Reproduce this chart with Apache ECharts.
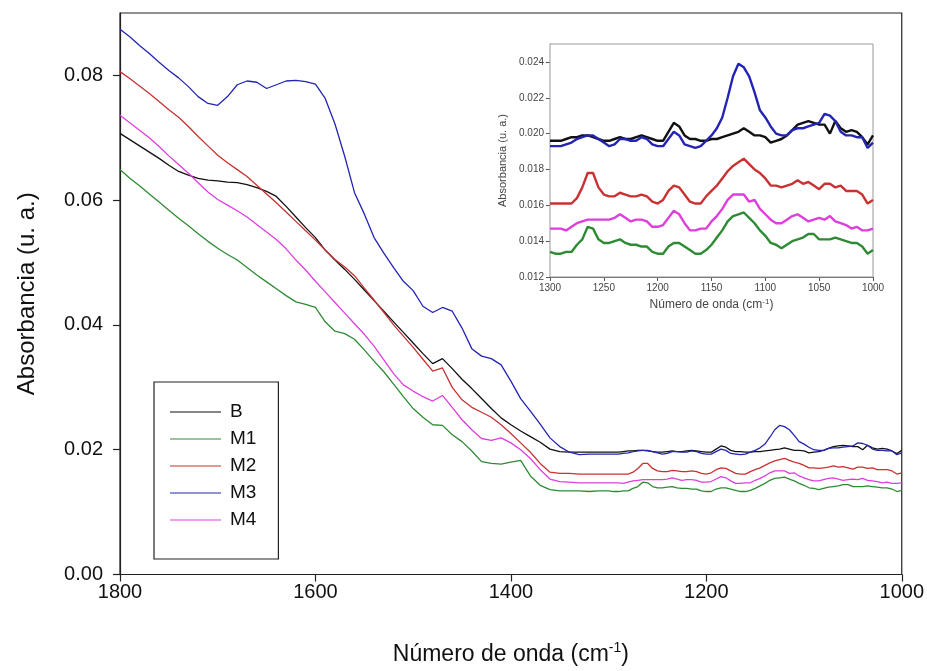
<!DOCTYPE html>
<html>
<head>
<meta charset="utf-8">
<script src="https://cdn.jsdelivr.net/npm/echarts@6/dist/echarts.min.js"></script>
<style>
html,body{margin:0;padding:0;background:#fff;}
#chart{width:927px;height:671px;}
</style>
</head>
<body>
<div id="chart"></div>
<script>
// ---- Data: main chart high-wavenumber region (1800 -> 1310, step 10) ----
const wnHi = [1800,1790,1780,1770,1760,1750,1740,1730,1720,1710,1700,1690,1680,1670,1660,1650,1640,1630,1620,1610,1600,1590,1580,1570,1560,1550,1540,1530,1520,1510,1500,1490,1480,1470,1460,1450,1440,1430,1420,1410,1400,1390,1380,1370,1360,1350,1340,1330,1320,1310];
const B_hi  = [0.0707,0.0697,0.0687,0.0677,0.0667,0.0656,0.0646,0.0640,0.0635,0.0632,0.0631,0.0629,0.0628,0.0625,0.0620,0.0614,0.0606,0.0590,0.0573,0.0556,0.0540,0.0520,0.0504,0.0489,0.0473,0.0456,0.0439,0.0422,0.0405,0.0388,0.0371,0.0354,0.0338,0.0346,0.0330,0.0313,0.0298,0.0282,0.0266,0.0251,0.0240,0.0230,0.0221,0.0212,0.0201,0.0197,0.0196,0.0196,0.0196,0.0196];
const M1_hi = [0.0649,0.0635,0.0623,0.0610,0.0597,0.0584,0.0571,0.0559,0.0546,0.0534,0.0523,0.0513,0.0504,0.0492,0.0480,0.0469,0.0458,0.0447,0.0437,0.0433,0.0428,0.0405,0.0390,0.0386,0.0377,0.0360,0.0342,0.0325,0.0305,0.0285,0.0266,0.0252,0.0240,0.0239,0.0224,0.0213,0.0198,0.0181,0.0178,0.0177,0.0180,0.0183,0.0158,0.0143,0.0136,0.0134,0.0134,0.0134,0.0133,0.0134];
const M2_hi = [0.0806,0.0795,0.0783,0.0771,0.0758,0.0745,0.0733,0.0718,0.0702,0.0687,0.0672,0.0660,0.0649,0.0638,0.0624,0.0610,0.0596,0.0581,0.0566,0.0551,0.0536,0.0520,0.0505,0.0493,0.0479,0.0459,0.0440,0.0420,0.0400,0.0382,0.0364,0.0345,0.0326,0.0331,0.0300,0.0280,0.0268,0.0260,0.0252,0.0240,0.0226,0.0211,0.0196,0.0178,0.0164,0.0162,0.0162,0.0161,0.0161,0.0161];
const M3_hi = [0.0874,0.0862,0.0848,0.0835,0.0821,0.0808,0.0796,0.0782,0.0766,0.0755,0.0752,0.0766,0.0785,0.0791,0.0789,0.0779,0.0785,0.0791,0.0792,0.0790,0.0786,0.0763,0.0722,0.0670,0.0612,0.0578,0.0540,0.0515,0.0492,0.0470,0.0455,0.0430,0.0420,0.0428,0.0422,0.0395,0.0362,0.0350,0.0346,0.0336,0.0310,0.0282,0.0262,0.0241,0.0219,0.0205,0.0196,0.0192,0.0193,0.0193];
const M4_hi = [0.0736,0.0724,0.0712,0.0700,0.0686,0.0671,0.0657,0.0643,0.0628,0.0613,0.0601,0.0592,0.0583,0.0573,0.0561,0.0549,0.0537,0.0522,0.0504,0.0488,0.0470,0.0453,0.0436,0.0419,0.0402,0.0385,0.0366,0.0344,0.0322,0.0304,0.0294,0.0285,0.0278,0.0287,0.0268,0.0248,0.0232,0.0218,0.0215,0.0219,0.0211,0.0200,0.0186,0.0168,0.0153,0.0149,0.0148,0.0147,0.0147,0.0147];

// ---- Data: fingerprint region (1300 -> 1000, step 5), used by inset and main ----
const wnLo = [1300,1295,1290,1285,1280,1275,1270,1265,1260,1255,1250,1245,1240,1235,1230,1225,1220,1215,1210,1205,1200,1195,1190,1185,1180,1175,1170,1165,1160,1155,1150,1145,1140,1135,1130,1125,1120,1115,1110,1105,1100,1095,1090,1085,1080,1075,1070,1065,1060,1055,1050,1045,1040,1035,1030,1025,1020,1015,1010,1005,1000];
const B_lo  = [0.0196,0.0196,0.0196,0.0197,0.0198,0.0198,0.0199,0.0199,0.0198,0.0197,0.0196,0.0196,0.0197,0.0198,0.0197,0.0197,0.0198,0.0199,0.0198,0.0197,0.0196,0.0196,0.0201,0.0206,0.0204,0.0199,0.0197,0.0197,0.0196,0.0196,0.0197,0.0197,0.0198,0.0199,0.0200,0.0201,0.0203,0.0201,0.0199,0.0199,0.0198,0.0195,0.0196,0.0197,0.0199,0.0202,0.0205,0.0206,0.0207,0.0206,0.0205,0.0205,0.0200,0.0207,0.0203,0.0201,0.0202,0.0201,0.0198,0.0194,0.0199];
const M1_lo = [0.0134,0.0133,0.0133,0.0134,0.0134,0.0138,0.0141,0.0148,0.0147,0.0141,0.0139,0.0139,0.0140,0.0141,0.0139,0.0138,0.0138,0.0137,0.0137,0.0134,0.0133,0.0133,0.0137,0.0139,0.0139,0.0137,0.0135,0.0133,0.0133,0.0135,0.0138,0.0142,0.0146,0.0151,0.0154,0.0155,0.0156,0.0153,0.0150,0.0146,0.0143,0.0139,0.0138,0.0136,0.0138,0.0140,0.0141,0.0142,0.0144,0.0144,0.0141,0.0141,0.0141,0.0142,0.0141,0.0140,0.0139,0.0139,0.0137,0.0133,0.0135];
const M2_lo = [0.0161,0.0161,0.0161,0.0161,0.0161,0.0164,0.0170,0.0178,0.0178,0.0170,0.0166,0.0165,0.0165,0.0167,0.0166,0.0165,0.0165,0.0166,0.0165,0.0162,0.0161,0.0163,0.0168,0.0171,0.0170,0.0166,0.0162,0.0161,0.0161,0.0165,0.0168,0.0171,0.0175,0.0179,0.0182,0.0184,0.0186,0.0183,0.0180,0.0178,0.0175,0.0171,0.0171,0.0170,0.0171,0.0172,0.0174,0.0172,0.0173,0.0171,0.0169,0.0172,0.0172,0.0170,0.0171,0.0168,0.0168,0.0168,0.0166,0.0161,0.0163];
const M3_lo = [0.0193,0.0193,0.0193,0.0194,0.0195,0.0197,0.0198,0.0199,0.0199,0.0197,0.0195,0.0193,0.0194,0.0197,0.0197,0.0196,0.0196,0.0198,0.0197,0.0194,0.0193,0.0193,0.0197,0.0201,0.0199,0.0194,0.0193,0.0192,0.0193,0.0196,0.0199,0.0203,0.0209,0.0220,0.0232,0.0239,0.0237,0.0232,0.0223,0.0213,0.0209,0.0204,0.0200,0.0199,0.0199,0.0202,0.0203,0.0203,0.0204,0.0205,0.0206,0.0211,0.0210,0.0207,0.0201,0.0199,0.0199,0.0198,0.0198,0.0192,0.0195];
const M4_lo = [0.0147,0.0147,0.0147,0.0146,0.0148,0.0150,0.0151,0.0152,0.0152,0.0152,0.0152,0.0152,0.0153,0.0155,0.0153,0.0151,0.0152,0.0152,0.0151,0.0148,0.0148,0.0149,0.0153,0.0157,0.0155,0.0150,0.0146,0.0146,0.0147,0.0147,0.0151,0.0154,0.0158,0.0163,0.0166,0.0166,0.0166,0.0162,0.0163,0.0158,0.0155,0.0152,0.0150,0.0150,0.0152,0.0154,0.0155,0.0153,0.0151,0.0152,0.0153,0.0152,0.0154,0.0151,0.0150,0.0149,0.0147,0.0148,0.0146,0.0146,0.0147];

const names  = ['B','M1','M2','M3','M4'];
const colors = ['#111111','#2e8b34','#c83232','#2424b4','#dd3fdd'];
const hiSets = [B_hi, M1_hi, M2_hi, M3_hi, M4_hi];
const loSets = [B_lo, M1_lo, M2_lo, M3_lo, M4_lo];

const mainTicksX = {min:1000, max:1800, interval:200};
const mainTicksY = {min:0, max:0.09, interval:0.02};
const insetTicksX = {min:1000, max:1300, interval:50};
const insetTicksY = {min:0.012, max:0.025, interval:0.002};

const FONT = "'Liberation Sans',Arial,sans-serif";

const series = [];
names.forEach((n, k) => {
  const data = wnHi.map((w,i)=>[w, hiSets[k][i]]).concat(wnLo.map((w,i)=>[w, loSets[k][i]]));
  series.push({name:n, type:'line', xAxisIndex:0, yAxisIndex:0, data, symbol:'none',
    lineStyle:{color:colors[k], width:1.3}, itemStyle:{color:colors[k]}, animation:false, z:3});
});
names.forEach((n, k) => {
  series.push({name:n+'_in', type:'line', xAxisIndex:1, yAxisIndex:1,
    data: wnLo.map((w,i)=>[w, loSets[k][i]]), symbol:'none',
    lineStyle:{color:colors[k], width:2.4}, itemStyle:{color:colors[k]}, animation:false, z:5});
});

const chart = echarts.init(document.getElementById('chart'), null, {renderer:'canvas'});
chart.setOption({
  backgroundColor:'#fff',
  animation:false,
  textStyle:{fontFamily:FONT},
  grid:[
    {left:120, right:25, top:13, bottom:95, show:true, borderColor:'#222', borderWidth:1.2, backgroundColor:'transparent'},
    {left:550, right:54, top:44, bottom:394, show:true, borderColor:'#999', borderWidth:1, backgroundColor:'#fff', z:4}
  ],
  legend:{
    data:names, orient:'vertical', left:154, top:382,
    padding:[20,22,29,16], itemGap:7, itemWidth:51, itemHeight:20,
    borderColor:'#222', borderWidth:1.2, backgroundColor:'#fff',
    textStyle:{fontSize:19, fontFamily:FONT, color:'#111', lineHeight:20, padding:[0,0,0,4]},
    icon:'path://M0,9.4 L51,9.4 L51,10.6 L0,10.6 Z',
    selectedMode:false
  },
  xAxis:[
    {type:'value', gridIndex:0, inverse:true, ...mainTicksX,
      axisLine:{show:true, onZero:false, lineStyle:{color:'#222', width:1.2}},
      axisTick:{show:true, length:7, lineStyle:{color:'#222', width:1.2}},
      splitLine:{show:false},
      axisLabel:{fontSize:20, color:'#111', margin:8, fontFamily:FONT, formatter:v=>String(v)},
      name:'Número de onda (cm{sup|-1})', nameLocation:'middle', nameGap:67,
      nameTextStyle:{fontSize:23, color:'#111', fontFamily:FONT,
        rich:{sup:{fontSize:14, color:'#111', fontFamily:FONT, verticalAlign:'top', padding:[0,0,12,0]}}}
    },
    {type:'value', gridIndex:1, inverse:true, ...insetTicksX,
      axisLine:{show:true, onZero:false, lineStyle:{color:'#555', width:1}},
      axisTick:{show:true, length:4, lineStyle:{color:'#555'}},
      splitLine:{show:false},
      axisLabel:{fontSize:10, color:'#444', margin:6, fontFamily:FONT, formatter:v=>String(v)},
      name:'Número de onda (cm{sup|-1})', nameLocation:'middle', nameGap:21,
      nameTextStyle:{fontSize:12, color:'#444', fontFamily:FONT,
        rich:{sup:{fontSize:8, color:'#444', fontFamily:FONT, verticalAlign:'top', padding:[0,0,6,0]}}}
    }
  ],
  yAxis:[
    {type:'value', gridIndex:0, ...mainTicksY,
      axisLine:{show:true, onZero:false, lineStyle:{color:'#222', width:1.2}},
      axisTick:{show:true, length:7, lineStyle:{color:'#222', width:1.2}},
      splitLine:{show:false},
      axisLabel:{fontSize:20, color:'#111', margin:17, showMaxLabel:false, fontFamily:FONT,
        formatter:v=>v.toFixed(2)},
      name:'Absorbancia (u. a.)', nameLocation:'middle', nameGap:81,
      nameTextStyle:{fontSize:24, color:'#111', fontFamily:FONT}
    },
    {type:'value', gridIndex:1, ...insetTicksY,
      axisLine:{show:true, onZero:false, lineStyle:{color:'#555', width:1}},
      axisTick:{show:true, length:4, lineStyle:{color:'#555'}},
      splitLine:{show:false},
      axisLabel:{fontSize:10, color:'#444', margin:6, showMaxLabel:false, fontFamily:FONT,
        formatter:v=>v.toFixed(3)},
      name:'Absorbancia (u. a.)', nameLocation:'middle', nameGap:42,
      nameTextStyle:{fontSize:11, color:'#444', fontFamily:FONT}
    }
  ],
  series
});
</script>
</body>
</html>
